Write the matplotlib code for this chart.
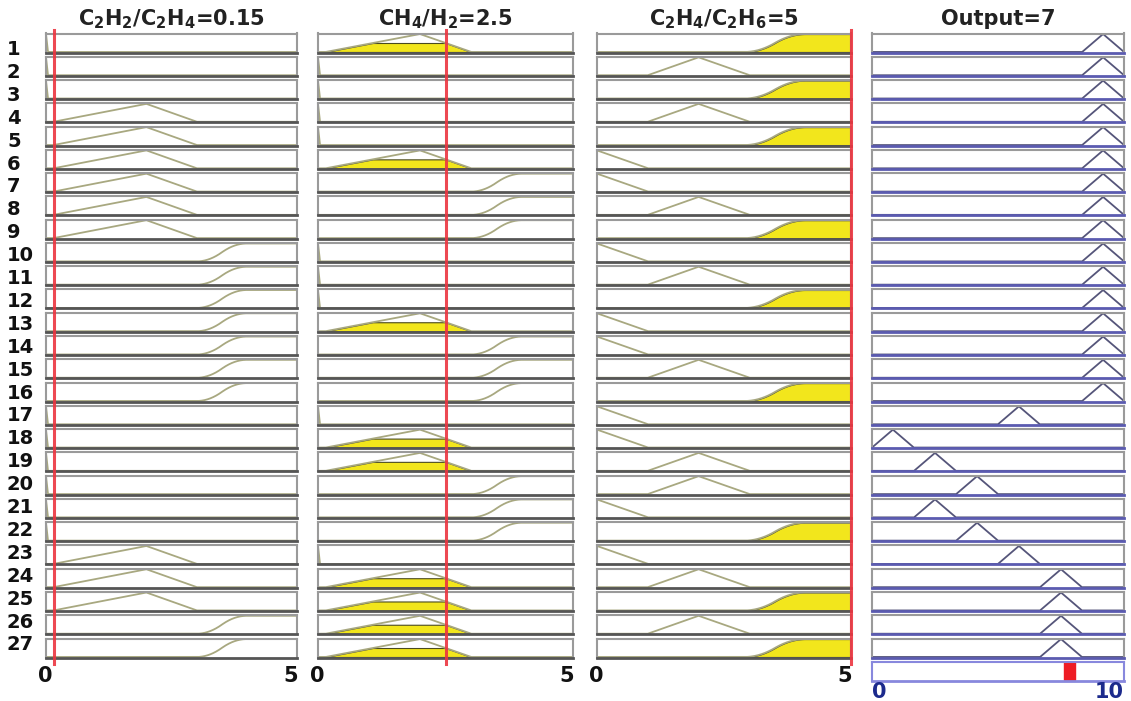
import numpy as np
import matplotlib.pyplot as plt

plt.rcParams['mathtext.default'] = 'bf'

# fuzzy rule viewer data
titles = [r'C$_2$H$_2$/C$_2$H$_4$=0.15', r'CH$_4$/H$_2$=2.5', r'C$_2$H$_4$/C$_2$H$_6$=5', 'Output=7']
in_values = [0.15, 2.5, 5]
in_range = (0, 5)
out_range = (0, 10)
out_bar = 7.83  # where the defuzzified mark sits in the picture

# antecedent membership function used by each rule (L/M/H)
rule_in1 = ['L', 'L', 'L', 'M', 'M', 'M', 'M', 'M', 'M', 'H', 'H', 'H', 'H', 'H',
            'H', 'H', 'L', 'L', 'L', 'L', 'L', 'L', 'M', 'M', 'M', 'H', 'H']
rule_in2 = ['M', 'L', 'L', 'L', 'L', 'M', 'H', 'H', 'H', 'L', 'L', 'L', 'M', 'H',
            'H', 'H', 'L', 'M', 'M', 'H', 'H', 'H', 'L', 'M', 'M', 'M', 'M']
rule_in3 = ['H', 'M', 'H', 'M', 'H', 'L', 'L', 'M', 'H', 'L', 'M', 'H', 'L', 'L',
            'M', 'H', 'L', 'L', 'M', 'M', 'L', 'H', 'L', 'M', 'H', 'M', 'H']
# output membership function index (1..6) for each rule
rule_out = [6, 6, 6, 6, 6, 6, 6, 6, 6, 6, 6, 6, 6, 6, 6, 6, 4, 1, 2, 3, 2, 3, 4, 5, 5, 5, 5]

# membership function breakpoints per input
mf_low = [[0, 0.04], [0, 0.04], [0, 1.0]]
mf_mid = [[0.15, 2, 3], [0.15, 2, 3], [1, 2, 3]]
mf_high = [[3, 4], [3, 4], [2.9, 4.1]]
out_centers = [0.83, 2.5, 4.17, 5.83, 7.5, 9.17]
out_half = 0.83


def smf(x, a, b):
    m = (a + b) / 2
    y = np.zeros_like(x)
    y[x >= b] = 1
    k = (x > a) & (x <= m)
    y[k] = 2 * ((x[k] - a) / (b - a)) ** 2
    k = (x > m) & (x < b)
    y[k] = 1 - 2 * ((x[k] - b) / (b - a)) ** 2
    return y


def mf_eval(col, name, x):
    if name == 'L':
        a, c = mf_low[col]
        return np.interp(x, [a, c], [1, 0])
    if name == 'M':
        a, b, c = mf_mid[col]
        return np.interp(x, [a, b, c], [0, 1, 0])
    a, b = mf_high[col]
    return smf(np.atleast_1d(np.asarray(x, float)), a, b)


W, H = 1131, 701
fig = plt.figure(figsize=(W / 100, H / 100), dpi=100)

col_x = [(46, 297), (318, 573), (597, 851), (872, 1124)]
row_top0, pitch, row_h = 33.5, 23.27, 19


def add_panel(c, k):
    x0, x1 = col_x[c]
    top = row_top0 + k * pitch
    return fig.add_axes([x0 / W, 1 - (top + row_h) / H, (x1 - x0) / W, row_h / H])


def style(ax, bottom_col, side_col='#9a9a9a'):
    ax.set_xticks([])
    ax.set_yticks([])
    for s in ['top', 'left', 'right']:
        ax.spines[s].set_color(side_col)
        ax.spines[s].set_linewidth(1.5)
    ax.spines['bottom'].set_color(bottom_col)
    ax.spines['bottom'].set_linewidth(2)


rules = [rule_in1, rule_in2, rule_in3]
xs = np.linspace(in_range[0], in_range[1], 801)

for c in range(3):
    for k in range(27):
        ax = add_panel(c, k)
        name = rules[c][k]
        y = mf_eval(c, name, xs)
        mu = float(mf_eval(c, name, np.array([in_values[c]]))[0])
        if mu > 0:
            ax.fill_between(xs, 0, np.minimum(y, mu), facecolor='#f2e61c',
                            edgecolor='#4a4a20', linewidth=0.8)
        ax.plot(xs, y, color='#a8a880', lw=1.3)
        ax.set_xlim(*in_range)
        ax.set_ylim(-0.03, 1.03)
        style(ax, '#555555')

    # red line marking the input value
    x0, x1 = col_x[c]
    ov = fig.add_axes([x0 / W, 1 - 664 / H, (x1 - x0) / W, (664 - 30) / H])
    ov.set_xlim(*in_range)
    ov.set_ylim(0, 1)
    ov.axis('off')
    ov.axvline(in_values[c], color='#ec3540', lw=2.2, alpha=0.9, clip_on=False)

xo = np.linspace(out_range[0], out_range[1], 1001)
for k in range(27):
    ax = add_panel(3, k)
    cen = out_centers[rule_out[k] - 1]
    y = np.interp(xo, [cen - out_half, cen, cen + out_half], [0, 1, 0])
    ax.plot(xo, y, color='#55557a', lw=1.3)
    ax.set_xlim(*out_range)
    ax.set_ylim(-0.03, 1.03)
    style(ax, '#5b5bb0')

ax = add_panel(3, 27)
ax.set_xlim(*out_range)
ax.set_ylim(0, 1)
ax.axvspan(out_bar - 0.22, out_bar + 0.22, ymin=0.02, ymax=0.98, color='#ee1c25')
style(ax, '#8888dd', '#8888dd')

# row numbers
for k in range(27):
    fig.text(7 / W, 1 - (49.5 + k * 22.9) / H, str(k + 1),
             ha='left', va='center', fontsize=14, fontweight='bold', color='#111111')

# column titles
for c in range(4):
    x0, x1 = col_x[c]
    fig.text((x0 + x1) / 2 / W, 1 - 19 / H, titles[c], ha='center', va='center',
             fontsize=15, fontweight='bold', color='#222222')

# range labels
for c in range(3):
    x0, x1 = col_x[c]
    fig.text((x0 - 8) / W, 1 - 676 / H, '0', ha='left', va='center', fontsize=15,
             fontweight='bold', color='#111111')
    fig.text((x1 + 1) / W, 1 - 676 / H, '5', ha='right', va='center', fontsize=15,
             fontweight='bold', color='#111111')
x0, x1 = col_x[3]
fig.text(x0 / W, 1 - 692 / H, '0', ha='left', va='center', fontsize=15,
         fontweight='bold', color='#1c2a8c')
fig.text(x1 / W, 1 - 692 / H, '10', ha='right', va='center', fontsize=15,
         fontweight='bold', color='#1c2a8c')

fig.savefig('out.png', dpi=100, facecolor='white')
